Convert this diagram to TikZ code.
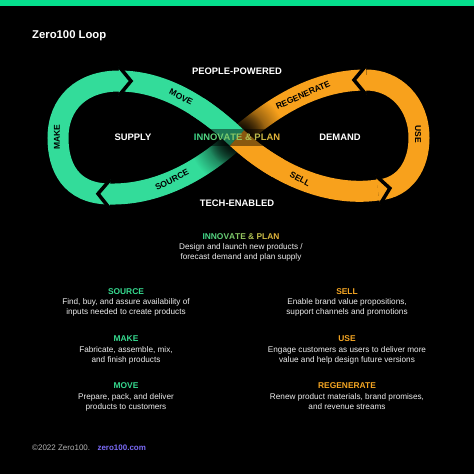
\documentclass[tikz,border=0pt]{standalone}
\usepackage{fontspec}
\setmainfont{Liberation Sans}
\usetikzlibrary{positioning,decorations.markings,fadings}
\definecolor{zgreen}{HTML}{33DC9A}
\definecolor{zorange}{HTML}{F8A11C}
\definecolor{zstripe}{HTML}{05DF8D}
\definecolor{zhead}{HTML}{36D98F}
\definecolor{zgold}{HTML}{F5A623}
\definecolor{zlink}{HTML}{7B6BF6}
\definecolor{zgray}{HTML}{B4B4B4}
\definecolor{ipg}{HTML}{3BD98C}
\definecolor{ipy}{HTML}{E5B53A}
\tikzfading[name=crossfade, inner color=transparent!0, outer color=transparent!100]
\newcommand\innovplan{\textcolor{ipg}{I}\textcolor{ipg!93!ipy}{N}\textcolor{ipg!86!ipy}{N}\textcolor{ipg!78!ipy}{O}\textcolor{ipg!70!ipy}{V}\textcolor{ipg!62!ipy}{A}\textcolor{ipg!54!ipy}{T}\textcolor{ipg!46!ipy}{E} \textcolor{ipg!32!ipy}{\&} \textcolor{ipg!22!ipy}{P}\textcolor{ipg!14!ipy}{L}\textcolor{ipg!7!ipy}{A}\textcolor{ipy}{N}}
\begin{document}
\begin{tikzpicture}
[
    x=1pt, y=-1pt,
    band/.style={line width=21pt, draw=#1},
    headtip/.style={postaction={decorate, decoration={markings,
        mark=at position 0.9999 with {\fill[#1] (0,-14.5) -- (12,0) -- (0,14.5) -- cycle;
            \draw[black, line width=3.5pt] (0,-14.5) -- (12,0) -- (0,14.5);}}}},
    onband/.style={font=\fontsize{8.5}{10}\selectfont\bfseries, text=black, inner sep=0},
    looplbl/.style={font=\fontsize{9.4}{11}\selectfont\bfseries, text=white, inner sep=0},
    hdg/.style={font=\fontsize{8.4}{10}\selectfont\bfseries, inner sep=0, anchor=base},
    bodytxt/.style={font=\fontsize{8.2}{10}\selectfont, text=white!93!black, align=center, inner sep=0},
]
\useasboundingbox (0,0) rectangle (474,474);
\fill[black] (0,0) rectangle (474,474);
\fill[zstripe] (0,0) rectangle (474,6);

\coordinate (c) at (237,138);
\coordinate (lt) at (119,81);
\coordinate (lb) at (110,194);
\coordinate (rt) at (366,80);
\coordinate (rb) at (378,190);

\draw[band=zgreen] (lt) .. controls (165,81) and (205,108) .. (c);
\draw[band=zgreen, headtip=zgreen] (lb) .. controls (70,194) and (58,166) .. (58,138)
    .. controls (58,103) and (82,81) .. (lt);
\draw[band=zgreen, headtip=zgreen] (c) .. controls (205,168) and (160,195) .. (lb);
\draw[band=zorange] (rt) .. controls (312,80) and (270,110) .. (c);
\draw[band=zorange, headtip=zorange] (rb) .. controls (405,188) and (419,165) .. (419,138)
    .. controls (419,103) and (395,80) .. (rt);
\draw[band=zorange, headtip=zorange] (c) .. controls (269,168) and (322,198) .. (rb);

\fill[black, path fading=crossfade] (c) circle [radius=48pt];
\fill[black, path fading=crossfade] (c) circle [radius=30pt];
\begin{scope}
    \clip (c) circle [radius=52pt];
    \draw[band=zgreen] (lt) .. controls (165,81) and (205,108) .. (c);
    \draw[band=zorange] (c) .. controls (269,168) and (322,198) .. (rb);
\end{scope}
\fill[black, opacity=0.45] (191,129) rectangle (284,146);

\node[anchor=base west, font=\fontsize{11.3}{13}\selectfont\bfseries, text=white, inner sep=0] (title) at (32,38) {Zero100 Loop};

\node[looplbl] (people) at (237,71.5) {PEOPLE-POWERED};
\node[looplbl] (tech) at (237,203) {TECH-ENABLED};
\node[looplbl] (supply) at (133,137.5) {SUPPLY};
\node[looplbl] (demand) at (340,137.5) {DEMAND};
\node[looplbl] (innov) at (237,137.5) {\innovplan};

\node[onband, rotate=90] (make) at (57,137) {MAKE};
\node[onband, rotate=-27] (move) at (181,97) {MOVE};
\node[onband, rotate=27] (source) at (172,180) {SOURCE};
\node[onband, rotate=24] (regen) at (303,95) {REGENERATE};
\node[onband, rotate=-28] (sell) at (300,179) {SELL};
\node[onband, rotate=-90] (use) at (418,134) {USE};

\node[hdg] (ihead) at (241,239) {\innovplan};
\node[bodytxt, below=4.5pt of ihead] (ibody) {Design and launch new products /\\forecast demand and plan supply};

\node[hdg, text=zhead] (srchead) at (126,294) {SOURCE};
\node[bodytxt, below=4.5pt of srchead] (srcbody) {Find, buy, and assure availability of\\inputs needed to create products};
\node[hdg, text=zhead] (makehead) at (126,341.5) {MAKE};
\node[bodytxt, below=4.5pt of makehead] (makebody) {Fabricate, assemble, mix,\\and finish products};
\node[hdg, text=zhead] (movehead) at (126,388.5) {MOVE};
\node[bodytxt, below=4.5pt of movehead] (movebody) {Prepare, pack, and deliver\\products to customers};

\node[hdg, text=zgold] (sellhead) at (347,294) {SELL};
\node[bodytxt, below=4.5pt of sellhead] (sellbody) {Enable brand value propositions,\\support channels and promotions};
\node[hdg, text=zgold] (usehead) at (347,341.5) {USE};
\node[bodytxt, below=4.5pt of usehead] (usebody) {Engage customers as users to deliver more\\value and help design future versions};
\node[hdg, text=zgold] (regenhead) at (347,388.5) {REGENERATE};
\node[bodytxt, below=4.5pt of regenhead] (regenbody) {Renew product materials, brand promises,\\and revenue streams};

\node[anchor=base west, font=\fontsize{8}{10}\selectfont, text=zgray, inner sep=0] (copy) at (32,450.5) {©2022 Zero100.};
\node[anchor=base west, font=\fontsize{8}{10}\selectfont\bfseries, text=zlink, inner sep=0] (site) at ([xshift=7pt]copy.base east) {zero100.com};
\end{tikzpicture}
\end{document}
